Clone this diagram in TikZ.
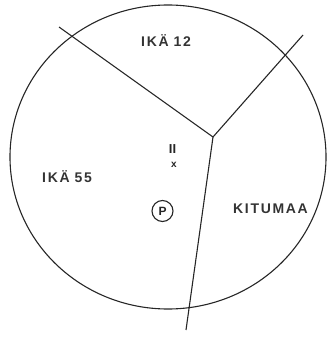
\documentclass[tikz,border=0pt]{standalone}
\usepackage{fontspec}
\setmainfont{Liberation Sans}
\newfontfamily\lblfont[LetterSpace=12]{Liberation Sans}
\begin{document}
\begin{tikzpicture}[x=1pt,y=-1pt,
  line/.style={line width=1.1pt, black!85},
  lbl/.style={inner sep=0pt, anchor=base west, font=\lblfont\bfseries\fontsize{14}{14}\selectfont, text=black!80}]
\useasboundingbox (0,0) rectangle (328,350);
\draw[line] (168,157) ellipse [x radius=158, y radius=152];
\coordinate (J) at (213,137);
\coordinate (UL) at (59,27);
\coordinate (UR) at (303,35);
\coordinate (B) at (186,330);
\draw[line] (UL) -- (J) -- (UR);
\draw[line] (J) -- (B);
\node[lbl] (ika12) at (141,47) {IKÄ\hspace{5pt}12};
\node[lbl] (ika55) at (42,182) {IKÄ\hspace{5pt}55};
\node[lbl] (kitumaa) at (233,213) {KITUMAA};
\node[inner sep=0pt, font=\fontsize{13}{13}\selectfont\bfseries, text=black!85] (ii) at (172.5,149.5) {II};
\node[inner sep=0pt, font=\fontsize{10}{10}\selectfont\bfseries, text=black!85] (xm) at (174,164.5) {x};
\node[draw, circle, line width=1.1pt, black!85, minimum size=21pt, inner sep=0pt, font=\fontsize{12}{12}\selectfont\bfseries] (p) at (162.5,211) {P};
\end{tikzpicture}
\end{document}
